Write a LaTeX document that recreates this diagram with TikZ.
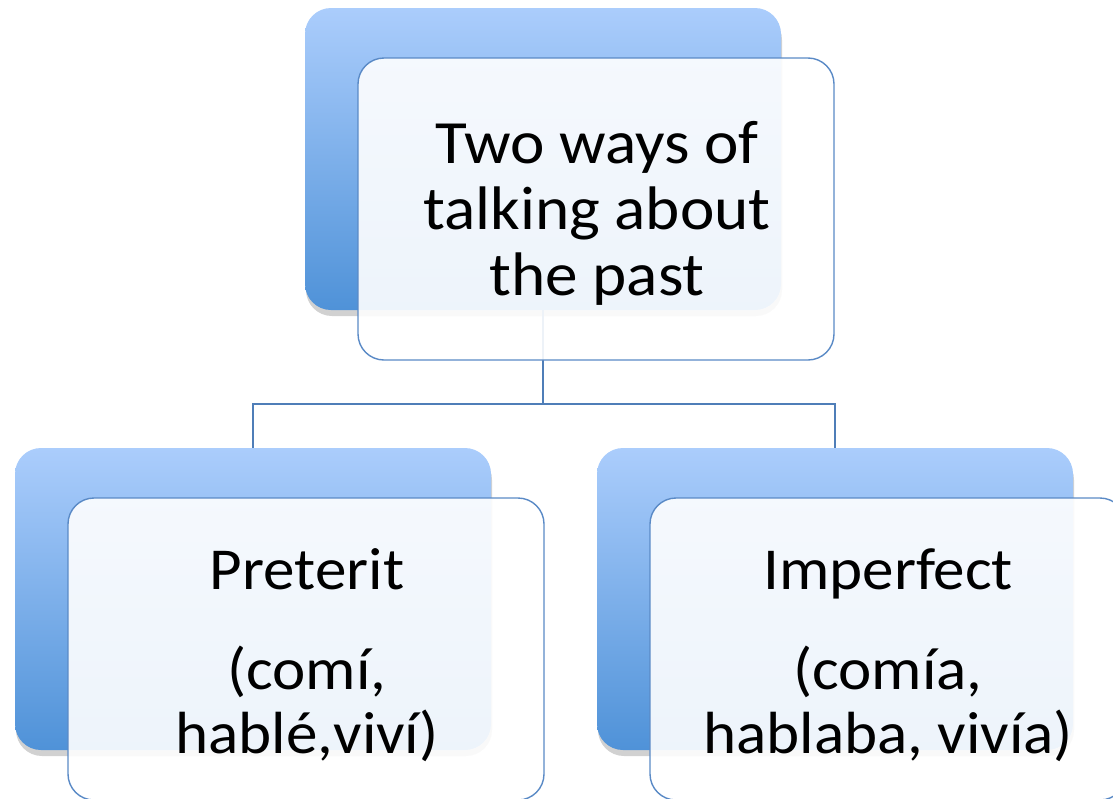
\documentclass[tikz,border=0pt]{standalone}
\usepackage{fontspec}
\setmainfont{Carlito}
\newfontfamily\widefont{Carlito}[FakeStretch=1.06]
\usetikzlibrary{shadows}
\definecolor{bluetop}{RGB}{171,205,252}
\definecolor{bluebot}{RGB}{79,146,216}
\definecolor{edgeblue}{RGB}{90,138,198}
\definecolor{linkblue}{RGB}{79,126,184}
\begin{document}
\begin{tikzpicture}[x=1pt,y=-1pt,
  backbox/.style={rectangle, rounded corners=26pt, minimum width=476pt, minimum height=302pt,
    inner sep=0pt, top color=bluetop, bottom color=bluebot, draw=none,
    drop shadow={shadow xshift=1pt, shadow yshift=-6pt, fill=black, opacity=0.18}},
  frontbox/.style={rectangle, rounded corners=26pt, minimum width=476pt, minimum height=302pt,
    inner sep=0pt, fill=white, fill opacity=0.9, draw=edgeblue, line width=1.4pt},
  bigtxt/.style={align=center, inner sep=0pt, font=\widefont\fontsize{61.5}{66}\selectfont},
  smalltxt/.style={align=center, inner sep=0pt, font=\widefont\fontsize{59.5}{64}\selectfont},
  link/.style={draw=linkblue, line width=1.4pt}]
\useasboundingbox (0,0) rectangle (1113,798);
% back boxes
\node[backbox] (topback) at (543,159) {};
\node[backbox] (lback) at (253,599) {};
\node[backbox] (rback) at (835,599) {};
% connectors
\coordinate (junc) at (543,404);
\draw[link] (topback.south) -- (junc) -| (lback.north);
\draw[link] (junc) -| (rback.north);
% front boxes
\node[frontbox] (topfront) at (596,209) {};
\node[frontbox] (lfront) at (306,649) {};
\node[frontbox] (rfront) at (888,649) {};
% texts
\node[bigtxt] (toptext) at (597,213) {Two ways of\\talking about\\the past};
\node[smalltxt] (ltext) at (307,655) {Preterit\\[36pt](comí,\\hablé,viví)};
\node[smalltxt] (rtext) at (888,655) {Imperfect\\[36pt](comía,\\hablaba, vivía)};
\end{tikzpicture}
\end{document}
